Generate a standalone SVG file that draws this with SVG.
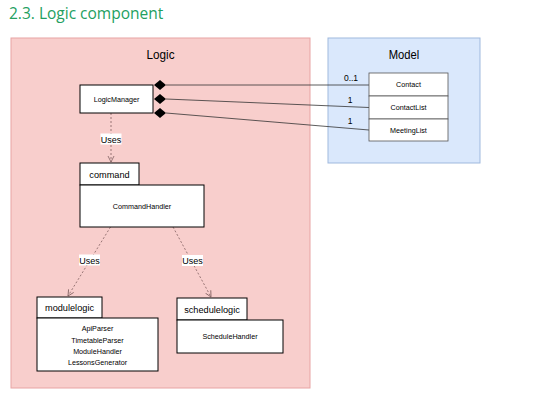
<svg xmlns="http://www.w3.org/2000/svg" width="543" height="405" viewBox="0 0 543 405">
<style>
.t{font-family:"Liberation Sans",Arial,sans-serif;fill:#000;text-anchor:middle}
.s{font-size:7.2px}
.m{font-size:9px}
.n{font-size:8.5px}
.p{font-size:9.2px}
.h{font-size:13px}
.box{fill:#fff;stroke:#000;stroke-width:1}
.row{fill:#fff;stroke:#555;stroke-width:0.8}
.dash{fill:none;stroke:#806060;stroke-width:0.8;stroke-dasharray:2,2}
.assoc{fill:none;stroke:#333;stroke-width:0.8}
.lbl{fill:#fff}
</style>
<defs>
<marker id="open" markerWidth="8" markerHeight="8" refX="6" refY="4" orient="auto" markerUnits="userSpaceOnUse">
<path d="M0,1 L6,4 L0,7" fill="none" stroke="#806060" stroke-width="0.8"/>
</marker>
<path id="dia" d="M-6,0 L0,-5 L6,0 L0,5 Z" fill="#000"/>
</defs>
<rect width="543" height="405" fill="#fff"/>
<text x="9" y="19" font-family="'Open Sans',sans-serif" font-size="15.5" fill="#23a05f">2.3. Logic component</text>

<g id="logic">
<rect x="11" y="38" width="299" height="350" fill="#f8cecc" stroke="#e8a4a4" stroke-width="1"/>
<text class="t h" x="160.5" y="59" textLength="28" lengthAdjust="spacingAndGlyphs">Logic</text>
</g>
<g id="model">
<rect x="328" y="38" width="152" height="125" fill="#dae8fc" stroke="#9fb9de" stroke-width="1"/>
<text class="t h" x="404" y="59" textLength="30.5" lengthAdjust="spacingAndGlyphs">Model</text>
</g>

<g id="connectors">
<line class="assoc" x1="166" y1="85" x2="369" y2="85"/>
<line class="assoc" x1="166" y1="99" x2="369" y2="107.5"/>
<line class="assoc" x1="166" y1="113" x2="369" y2="130"/>
<use href="#dia" x="160" y="85"/>
<use href="#dia" x="160" y="99"/>
<use href="#dia" x="160" y="113"/>
<text class="t n" x="351" y="81">0..1</text>
<text class="t n" x="350" y="103">1</text>
<text class="t n" x="350" y="124">1</text>

<line class="dash" x1="111" y1="113" x2="111" y2="162" marker-end="url(#open)"/>
<rect class="lbl" x="100.5" y="133.5" width="21" height="11"/>
<text class="t m" x="111" y="142.5">Uses</text>

<line class="dash" x1="110.5" y1="227" x2="68" y2="296" marker-end="url(#open)"/>
<rect class="lbl" x="79" y="254.5" width="21" height="11"/>
<text class="t m" x="89.5" y="263.5">Uses</text>

<line class="dash" x1="173" y1="227" x2="211" y2="297" marker-end="url(#open)"/>
<rect class="lbl" x="182" y="255" width="21" height="11"/>
<text class="t m" x="192.5" y="264">Uses</text>
</g>

<g id="logicmanager">
<rect class="box" x="80" y="85" width="73" height="28"/>
<text class="t s" x="116.5" y="101.5">LogicManager</text>
</g>

<g id="command">
<rect class="box" x="80" y="163" width="59" height="22"/>
<text class="t p" x="109.5" y="177.5">command</text>
<rect class="box" x="80" y="185" width="124" height="42"/>
<text class="t s" x="142" y="209">CommandHandler</text>
</g>

<g id="modulelogic">
<rect class="box" x="37" y="297" width="65" height="21"/>
<text class="t p" x="69.5" y="311">modulelogic</text>
<rect class="box" x="37" y="318" width="121" height="53"/>
<text class="t s" x="97.5" y="331">ApiParser</text>
<text class="t s" x="97.5" y="342.5">TimetableParser</text>
<text class="t s" x="97.5" y="354">ModuleHandler</text>
<text class="t s" x="97.5" y="365">LessonsGenerator</text>
</g>

<g id="schedulelogic">
<rect class="box" x="177" y="298" width="70" height="22"/>
<text class="t p" x="212" y="312.5">schedulelogic</text>
<rect class="box" x="177" y="320" width="106" height="33"/>
<text class="t s" x="230" y="339">ScheduleHandler</text>
</g>

<g id="contact">
<rect class="row" x="369" y="73" width="79" height="23"/>
<text class="t s" x="408.5" y="87">Contact</text>
</g>
<g id="contactlist">
<rect class="row" x="369" y="96" width="79" height="23"/>
<text class="t s" x="408.5" y="110">ContactList</text>
</g>
<g id="meetinglist">
<rect class="row" x="369" y="119" width="79" height="22"/>
<text class="t s" x="408.5" y="132.5">MeetingList</text>
</g>
</svg>
